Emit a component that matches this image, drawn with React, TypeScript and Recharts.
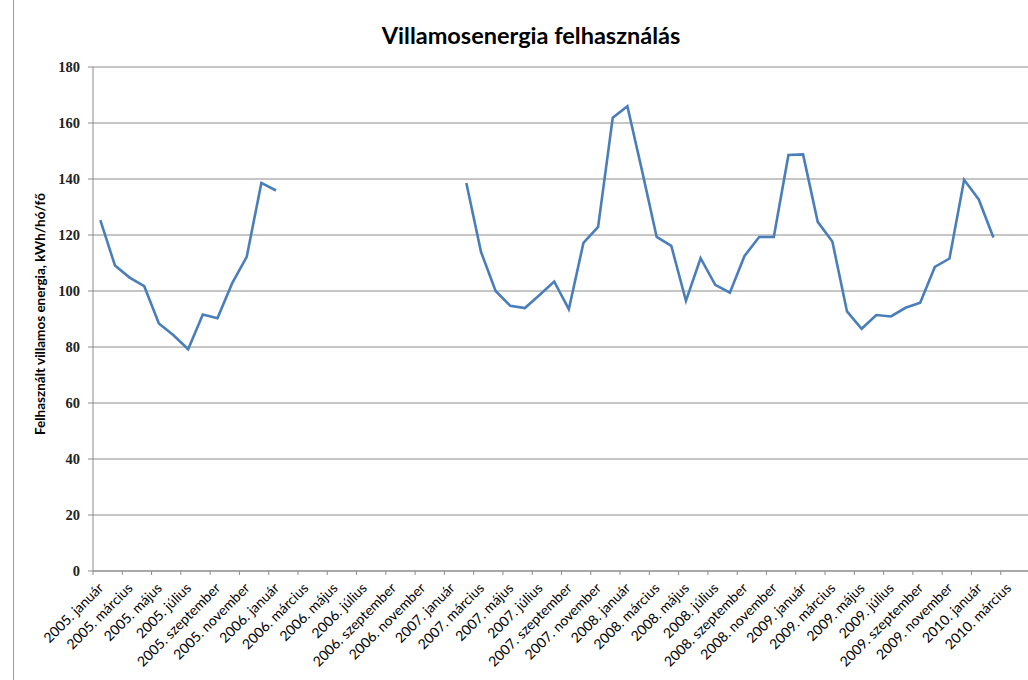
import React from "react";
import { LineChart, Line, XAxis, YAxis, CartesianGrid } from "recharts";

const years = [2005, 2006, 2007, 2008, 2009, 2010];
const monthNames = [
  "január", "február", "március", "április", "május", "június",
  "július", "augusztus", "szeptember", "október", "november", "december",
];
// 2005. január … 2010. április
const categories: string[] = [];
years.forEach((yr) => {
  monthNames.forEach((m, i) => {
    if (yr < 2010 || i < 4) categories.push(`${yr}. ${m}`);
  });
});

// kWh/hó/fő, null = no data
const consumption: (number | null)[] = [
  // 2005
  125.3, 109.1, 104.8, 101.7, 88.4, 84.2, 79.2, 91.6, 90.3, 102.7, 112.2, 138.6,
  // 2006
  135.9, null, null, null, null, null, null, null, null, null, null, null,
  // 2007
  null, 138.6, 114.0, 100.0, 94.7, 93.9, 98.6, 103.4, 93.5, 117.2, 122.9, 161.9,
  // 2008
  166.0, 143.0, 119.3, 116.1, 96.5, 111.7, 102.2, 99.4, 112.5, 119.3, 119.3, 148.6,
  // 2009
  148.8, 124.7, 117.7, 92.7, 86.5, 91.4, 90.9, 94.0, 95.8, 108.6, 111.6, 139.7,
  // 2010
  132.7, 119.1, null, null,
];

const yTicks = [0, 20, 40, 60, 80, 100, 120, 140, 160, 180];

const data = categories.map((c, i) => ({ month: c, value: consumption[i] }));

const CHART_W = 1040;
const CHART_H = 680;
const MARGIN = { top: 67, right: 10, left: 0, bottom: 0 };
const Y_AXIS_W = 93;
const X_AXIS_H = 109;
const PLOT_W = CHART_W - MARGIN.left - MARGIN.right - Y_AXIS_W;
const BAND = PLOT_W / categories.length;

const GRID = "#8c8c8c";
const LINE = "#4a7ebb";
const SANS = "Lato, 'Open Sans', sans-serif";

const XTick = (props: any) => {
  const { x, y, payload } = props;
  const lx = x - BAND / 2;
  const tx = x + 4;
  const ty = y + 18;
  return (
    <g>
      <line x1={lx} x2={lx} y1={y} y2={y + 4} stroke={GRID} strokeWidth={1} />
      <text
        x={tx}
        y={ty}
        transform={`rotate(-45 ${tx} ${ty})`}
        textAnchor="end"
        fontFamily={SANS}
        fontSize={14}
        fill="#000"
      >
        {payload.value}
      </text>
    </g>
  );
};

export default function App() {
  return (
    <div
      style={{
        position: "absolute",
        left: 0,
        top: 0,
        width: 1028,
        height: 680,
        overflow: "hidden",
        background: "#fff",
      }}
    >
      <div
        style={{
          position: "absolute",
          left: 13,
          top: 0,
          width: 0,
          height: 680,
          borderLeft: "1px solid #9a9a9a",
        }}
      />
      <div
        style={{
          position: "absolute",
          left: 0,
          top: 21,
          width: 1062,
          textAlign: "center",
          fontFamily: SANS,
          fontWeight: 700,
          fontSize: 23.5,
          lineHeight: "28px",
          color: "#000",
        }}
      >
        Villamosenergia felhasználás
      </div>
      <div
        style={{
          position: "absolute",
          left: 40 - 200,
          top: 314 - 9,
          width: 400,
          height: 18,
          lineHeight: "18px",
          textAlign: "center",
          transform: "rotate(-90deg)",
          fontFamily: SANS,
          fontWeight: 700,
          fontSize: 13.5,
          color: "#000",
        }}
      >
        Felhasznált villamos energia, kWh/hó/fő
      </div>
      <div style={{ position: "absolute", left: 0, top: 0 }}>
        <LineChart width={CHART_W} height={CHART_H} data={data} margin={MARGIN}>
          <CartesianGrid vertical={false} stroke={GRID} strokeDasharray="" />
          <XAxis
            dataKey="month"
            scale="band"
            interval={1}
            height={X_AXIS_H}
            tickSize={0}
            tickMargin={0}
            tickLine={false}
            axisLine={{ stroke: GRID }}
            tick={<XTick />}
          />
          <YAxis
            width={Y_AXIS_W}
            domain={[0, 180]}
            ticks={yTicks}
            interval={0}
            tickSize={5}
            tickMargin={8}
            axisLine={{ stroke: GRID }}
            tickLine={{ stroke: GRID }}
            tick={{ fontFamily: "'Liberation Serif', serif", fontSize: 14.5, fontWeight: 700, fill: "#222" }}
          />
          <Line
            dataKey="value"
            type="linear"
            stroke={LINE}
            strokeWidth={2.6}
            dot={false}
            connectNulls={false}
            isAnimationActive={false}
          />
        </LineChart>
      </div>
    </div>
  );
}
